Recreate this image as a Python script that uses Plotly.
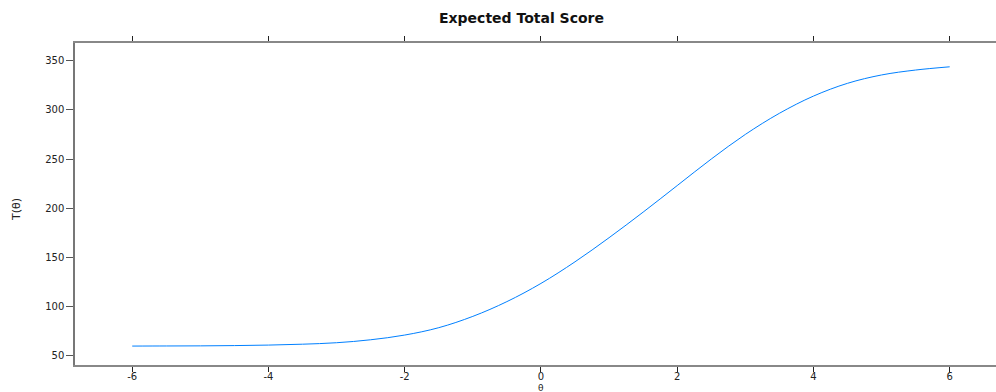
import plotly.graph_objects as go

# Expected total score curve T(theta)
theta = [-6.0, -5.5, -5.0, -4.5, -4.0, -3.5, -3.0, -2.5, -2.0, -1.5, -1.0, -0.5,
         0.0, 0.5, 1.0, 1.5, 2.0, 2.5, 3.0, 3.5, 4.0, 4.5, 5.0, 5.5, 6.0]
score = [59.8, 59.9, 60.0, 60.3, 60.8, 61.7, 63.2, 66.2, 71.0, 78.5, 90.0, 105.0,
         123.5, 145.5, 170.0, 196.0, 223.0, 250.0, 275.0, 296.5, 314.0, 327.0, 335.5, 340.5, 343.8]

x_ticks = [-6, -4, -2, 0, 2, 4, 6]
y_ticks = [50, 100, 150, 200, 250, 300, 350]

W, H = 996, 392
L, R, T, B = 75, 0, 43, 27
pw, ph = W - L - R, H - T - B

def px_x(p):
    return (p - L) / pw

def px_y(p):
    return (H - B - p) / ph

fig = go.Figure()
fig.add_trace(go.Scatter(
    x=theta, y=score, mode="lines", line_shape="spline",
    line=dict(color="#0080ff", width=1), hoverinfo="x+y", showlegend=False,
))

tick_font = dict(family="DejaVu Sans", size=10, color="#222")

fig.update_layout(
    width=W, height=H,
    margin=dict(l=L, r=R, t=T, b=B),
    paper_bgcolor="white", plot_bgcolor="white",
    xaxis=dict(
        range=[-6.84, 6.68], tickvals=x_ticks, ticktext=[str(v) for v in x_ticks],
        showgrid=False, zeroline=False, showline=True, linecolor="#888", linewidth=1.5,
        mirror="ticks", ticks="outside", ticklen=5, tickcolor="#222", tickwidth=1,
        tickfont=tick_font, ticklabelstandoff=-4,
    ),
    yaxis=dict(
        range=[40.55, 368], tickvals=y_ticks, ticktext=[str(v) for v in y_ticks],
        showgrid=False, zeroline=False, showline=True, linecolor="#777", linewidth=1.5,
        ticks="outside", ticklen=7, tickcolor="#555", tickwidth=1,
        tickfont=tick_font,
    ),
    annotations=[
        dict(text="<b>Expected Total Score</b>", x=px_x(521), y=px_y(18),
             xref="paper", yref="paper", xanchor="center", yanchor="middle",
             showarrow=False, font=dict(family="DejaVu Sans", size=14, color="#111")),
        dict(text="T(θ)", x=px_x(17), y=px_y(210), textangle=-90,
             xref="paper", yref="paper", xanchor="center", yanchor="middle",
             showarrow=False, font=dict(family="DejaVu Sans", size=11, color="#222")),
        dict(text="θ", x=px_x(541), y=px_y(388),
             xref="paper", yref="paper", xanchor="center", yanchor="middle",
             showarrow=False, font=dict(family="DejaVu Sans", size=9, color="#222")),
    ],
)

fig.write_html("out.html")
